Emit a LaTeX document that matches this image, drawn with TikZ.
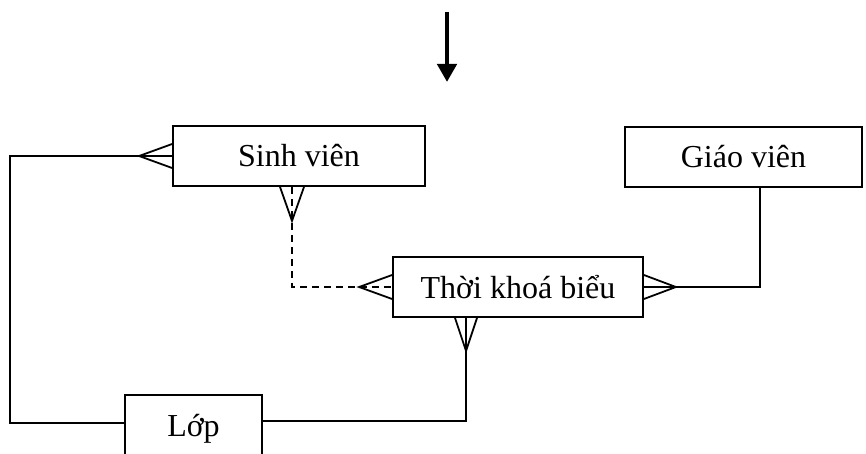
\documentclass[tikz,border=0pt]{standalone}
\usepackage{fontspec}
\setmainfont{Liberation Serif}
\usetikzlibrary{arrows.meta}

\begin{document}
\begin{tikzpicture}[x=1pt, y=1pt, line width=1.8pt,
    every node/.style={inner sep=0pt},
    entity/.style={draw, minimum height=60pt,
      font=\fontsize{32}{38}\selectfont}]
    \useasboundingbox (0,0) rectangle (866,453);
    \clip (0,0) rectangle (866,453);
    \node[entity, minimum width=252pt] (sv) at (299,297) {Sinh viên};
    \node[entity, minimum width=237pt] (gv) at (743.5,296) {Giáo viên};
    \node[entity, minimum width=250pt] (tkb) at (518,166) {Thời khoá biểu};
    \node[entity, minimum width=137pt, minimum height=68pt] (lop) at (193.5,24) {Lớp};
    \coordinate (start) at (447,441);
    \coordinate (tip) at (447,371);
    \draw[line width=4.5pt, -{Triangle[width=19pt,length=18pt]}] (start) -- (tip);
    % connectors
    \draw (sv.west) -- (10,297) |- ([yshift=6pt]lop.west);
    \draw[dash pattern=on 7pt off 5pt] ([xshift=-7pt]sv.south) |- (tkb.west);
    \draw ([xshift=16.5pt]gv.south) |- (tkb.east);
    \draw ([xshift=-52pt]tkb.south) |- ([yshift=8pt]lop.east);
    % crow's feet
    \draw ([yshift=12pt]sv.west) -- ++(-33,-12) -- ++(33,-12);
    \draw ([xshift=-19pt]sv.south) -- ++(12,-34) -- ++(12,34);
    \draw ([yshift=12pt]tkb.west) -- ++(-33,-12) -- ++(33,-12);
    \draw ([yshift=12pt]tkb.east) -- ++(32,-12) -- ++(-32,-12);
    \draw ([xshift=-63pt]tkb.south) -- ++(11,-33) -- ++(11,33);
\end{tikzpicture}
\end{document}
